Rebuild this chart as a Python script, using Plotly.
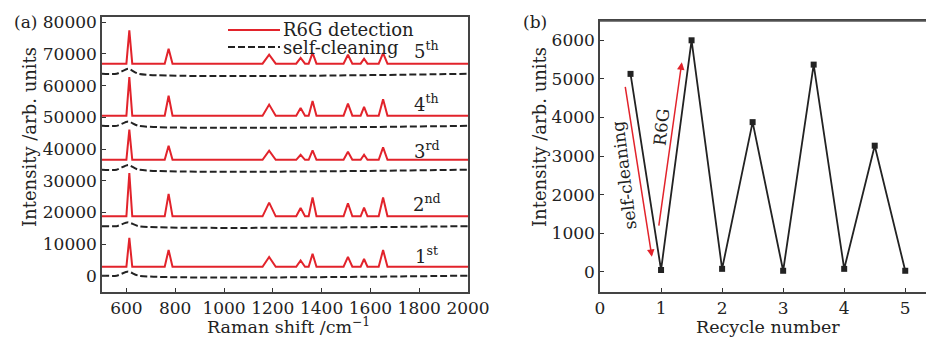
import plotly.graph_objects as go

# ---------------- data: panel (a) Raman spectra ----------------
raman_range = [500, 2000]
peak_pos = [612, 773, 1185, 1314, 1363, 1508, 1574, 1652]          # cm^-1
peak_halfbase = [12, 16, 27, 18, 16, 18, 14, 18]                   # cm^-1
cycle_names = ["1st", "2nd", "3rd", "4th", "5th"]
r6g_baseline = [2900, 18800, 36600, 50500, 66900]
r6g_tops = [
    [12000, 8200, 6000, 4900, 7000, 6000, 5350, 8200],
    [32400, 25850, 23100, 21400, 24750, 22900, 21550, 24750],
    [46100, 41050, 39500, 38200, 39600, 39150, 38200, 40500],
    [62700, 56800, 54000, 52900, 55150, 54300, 53300, 55650],
    [77400, 71600, 69700, 68700, 70300, 69700, 68450, 70200],
]
clean_baseline = [100, 15700, 33500, 47300, 63700]
clean_bump_top = [1400, 16900, 35000, 48700, 65300]
clean_bump_pos = [560, 607, 650]   # start, top, end of the weak residual band

# ---------------- data: panel (b) recycle test ----------------
recycle = [0.5, 1, 1.5, 2, 2.5, 3, 3.5, 4, 4.5, 5]
intensity = [5130, 50, 6000, 80, 3880, 30, 5370, 80, 3270, 30]

RED = "#e2232b"
DARK = "#222222"
FONT = "DejaVu Serif"
W, H = 926, 337

fig = go.Figure()

for i in range(5):
    xs = [raman_range[0]]
    ys = [r6g_baseline[i]]
    for p, hw, top in zip(peak_pos, peak_halfbase, r6g_tops[i]):
        xs += [p - hw, p, p + hw]
        ys += [r6g_baseline[i], top, r6g_baseline[i]]
    xs.append(raman_range[1])
    ys.append(r6g_baseline[i])
    fig.add_trace(go.Scatter(x=xs, y=ys, mode="lines", xaxis="x", yaxis="y",
                             line=dict(color=RED, width=2), showlegend=False,
                             name="R6G detection " + cycle_names[i]))
    cx = [raman_range[0], clean_bump_pos[0], clean_bump_pos[1], clean_bump_pos[2], raman_range[1]]
    cy = [clean_baseline[i], clean_baseline[i], clean_bump_top[i], clean_baseline[i], clean_baseline[i]]
    fig.add_trace(go.Scatter(x=cx, y=cy, mode="lines", xaxis="x", yaxis="y",
                             line=dict(color=DARK, width=2, dash="7px,3px", shape="spline", smoothing=0.6),
                             showlegend=False, name="self-cleaning " + cycle_names[i]))

fig.add_trace(go.Scatter(x=recycle, y=intensity, mode="lines+markers", xaxis="x2", yaxis="y2",
                         line=dict(color=DARK, width=1.8),
                         marker=dict(symbol="square", size=6, color=DARK),
                         showlegend=False))

def px(x):
    return x / W

def py(y):
    return 1 - y / H

axis_common = dict(showgrid=False, zeroline=False, ticks="inside", ticklen=4,
                   tickwidth=1.2, tickcolor="#333", linecolor="#444", linewidth=1.5,
                   tickformat="d",
                   tickfont=dict(family=FONT, size=17, color="#222"), automargin=False)

fig.update_layout(
    width=W, height=H,
    margin=dict(l=0, r=0, t=0, b=0),
    paper_bgcolor="white", plot_bgcolor="white",
    showlegend=False,
    xaxis=dict(domain=[px(102), px(468)], range=[500, 2000], tickvals=list(range(600, 2001, 200)),
               anchor="y", mirror=True, showline=True, **axis_common),
    yaxis=dict(domain=[py(292), py(17)], range=[-5050, 81600], tickvals=list(range(0, 80001, 10000)),
               anchor="x", mirror=True, showline=True, **axis_common),
    xaxis2=dict(domain=[px(600), 1.0], range=[0, 5.34], tickvals=[0, 1, 2, 3, 4, 5],
                anchor="y2", mirror=True, showline=True, **axis_common),
    yaxis2=dict(domain=[py(292), py(21)], range=[-520, 6500], tickvals=list(range(0, 6001, 1000)),
                anchor="x2", showline=True, **axis_common),
)

# explicit top frame line of panel (b)
fig.add_shape(type="line", xref="paper", yref="paper", x0=px(600), x1=1.0, y0=py(21), y1=py(21),
              line=dict(color="#555", width=1.5), layer="above")

ann = []
C = dict(xanchor="center", yanchor="middle", showarrow=False)

def txt(text, x, y, size=18, **kw):
    d = dict(text=text, x=px(x), y=py(y), xref="paper", yref="paper",
             font=dict(family=FONT, size=size, color="#222"))
    d.update(C)
    d.update(kw)
    return d

# panel labels
ann.append(txt("(a)", 25, 22, 17))
ann.append(txt("(b)", 535, 22, 17))
# axis titles
ann.append(txt("Intensity /arb. units", 30, 137, textangle=-90))
ann.append(txt("Intensity /arb. units", 540, 137, textangle=-90))
ann.append(txt("Raman shift /cm<sup>\u22121</sup>", 288, 326, 17.5))
ann.append(txt("Recycle number", 768, 327, 17.5))
# cycle labels
label_y = [6600, 23000, 39800, 54600, 71300]
for name, yv in zip(cycle_names, label_y):
    d = dict(text=name[0] + "<sup>" + name[1:] + "</sup>", x=1830, y=yv, xref="x", yref="y",
             font=dict(family=FONT, size=18, color="#222"))
    d.update(C)
    ann.append(d)
# manual legend
ann.append(txt("R6G detection", 281, 30, xanchor="left"))
ann.append(txt("self-cleaning", 281, 47, xanchor="left"))
fig.add_shape(type="line", xref="paper", yref="paper", x0=px(228), x1=px(280), y0=py(30), y1=py(30),
              line=dict(color=RED, width=2))
fig.add_shape(type="line", xref="paper", yref="paper", x0=px(228), x1=px(280), y0=py(47), y1=py(47),
              line=dict(color=DARK, width=2, dash="7px,3px"))

# panel (b) arrows and labels
ann.append(dict(x=0.85, y=390, ax=0.41, ay=4830, xref="x2", yref="y2", axref="x2", ayref="y2",
                showarrow=True, arrowhead=2, arrowsize=1, arrowwidth=1.5, arrowcolor=RED, text=""))
ann.append(dict(x=1.34, y=5430, ax=0.96, ay=1160, xref="x2", yref="y2", axref="x2", ayref="y2",
                showarrow=True, arrowhead=2, arrowsize=1, arrowwidth=1.5, arrowcolor=RED, text=""))
d = dict(text="self-cleaning", x=0.40, y=2500, xref="x2", yref="y2",
         textangle=-97, font=dict(family=FONT, size=17, color="#222"))
d.update(C)
ann.append(d)
d = dict(text="R6G", x=1.01, y=3750, xref="x2", yref="y2",
         textangle=-84, font=dict(family=FONT, size=17, color="#222"))
d.update(C)
ann.append(d)

fig.update_layout(annotations=ann)
fig.write_html("out.html", config={"displayModeBar": False},
               post_script="document.body.style.margin='0';document.body.style.overflow='hidden';")
